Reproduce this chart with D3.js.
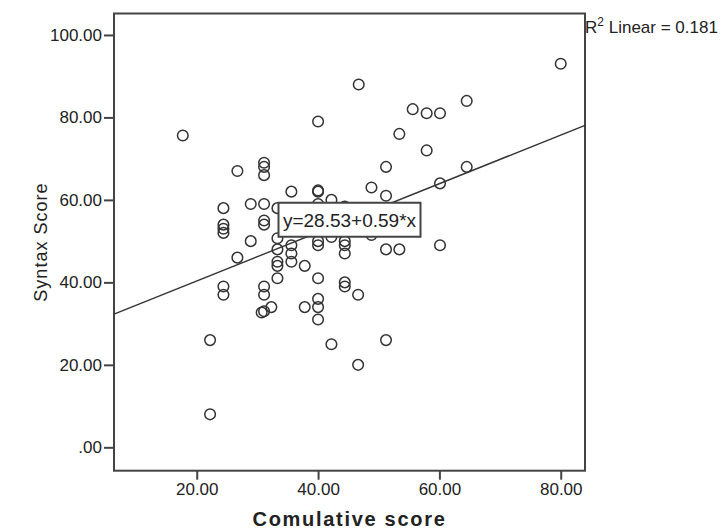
<!DOCTYPE html>
<html lang="en">
  <head>
    <meta charset="utf-8" />
    <title>Syntax Score vs Comulative score</title>
    <script src="https://cdnjs.cloudflare.com/ajax/libs/d3/7.8.5/d3.min.js"></script>
    <style type="text/css">
      body {
        margin: 0;
        background: #fff;
      }

      text {
        font-family: "Liberation Sans", Arial, Helvetica, sans-serif;
        fill: #222;
      }

      .frame {
        fill: none;
        stroke: #444;
        stroke-width: 2;
      }

      .dot {
        fill: none;
        stroke: #333;
        stroke-width: 1.5;
      }

      .fit {
        fill: none;
        stroke: #333;
        stroke-width: 1.4;
      }
    </style>
  </head>

  <body>
    <script>
      // values
      const cumulative = [
        17.7, 22.2, 22.2, 24.4, 24.4, 24.4, 24.4, 24.4, 24.4, 26.7,
        26.7, 28.9, 28.9, 31.1, 31.1, 31.1, 31.1, 31.1, 31.1, 31.1,
        31.1, 31.1, 30.7, 32.3, 33.3, 33.3, 33.3, 33.3, 33.3, 33.3,
        35.6, 35.6, 35.6, 35.6, 37.8, 37.8, 40.0, 40.0, 40.0, 40.0,
        40.0, 40.0, 40.0, 40.0, 40.0, 40.0, 42.2, 42.2, 42.2, 44.4,
        44.4, 44.4, 44.4, 44.4, 44.4, 46.7, 46.6, 46.6, 48.8, 48.8,
        51.2, 51.2, 51.2, 51.2, 53.4, 53.4, 55.6, 57.9, 57.9, 60.1,
        60.1, 60.1, 64.5, 64.5, 80.0
      ];
      const syntax = [
        75.6, 26.0, 8.0, 58.0, 54.0, 53.0, 52.0, 39.0, 37.0, 67.0,
        46.0, 59.0, 50.0, 69.0, 68.0, 66.0, 59.0, 55.0, 54.0, 39.0,
        37.0, 33.0, 32.7, 34.0, 58.0, 50.7, 48.0, 45.0, 44.0, 41.0,
        62.0, 49.0, 47.0, 45.0, 44.0, 34.0, 79.0, 62.0, 62.3, 59.0,
        50.0, 49.0, 41.0, 36.0, 34.0, 31.0, 60.0, 51.0, 25.0, 58.4,
        50.0, 49.0, 47.0, 40.0, 39.0, 88.0, 37.0, 20.0, 63.0, 51.5,
        68.0, 61.0, 48.0, 26.0, 76.0, 48.0, 82.0, 81.0, 72.0, 81.0,
        64.0, 49.0, 84.0, 68.0, 93.0
      ];

      const intercept = 28.53;
      const slope = 0.59;
      const r2 = 0.181;

      const xTicks = [20, 40, 60, 80];
      const yTicks = [0, 20, 40, 60, 80, 100];

      const data = cumulative.map((c, i) => ({ x: c, y: syntax[i] }));

      const width = 721;
      const height = 532;
      const marginTop = 13.5;
      const marginRight = 136;
      const marginBottom = 61.3;
      const marginLeft = 114;

      const x = d3.scaleLinear()
        .domain([6.36, 84.0])
        .range([marginLeft, width - marginRight]);

      const y = d3.scaleLinear()
        .domain([-5.67, 105.2])
        .range([height - marginBottom, marginTop]);

      const fmt = (d) => (d === 0 ? ".00" : d.toFixed(2));

      const svg = d3
        .select("body")
        .append("svg")
        .attr("width", width)
        .attr("height", height)
        .attr("viewBox", [0, 0, width, height]);

      // x axis
      svg.append("g")
        .attr("transform", `translate(0, ${height - marginBottom})`)
        .call(d3.axisBottom(x).tickValues(xTicks).tickFormat(fmt).tickSize(9).tickPadding(3).tickSizeOuter(0))
        .call((g) => g.select(".domain").remove())
        .call((g) => g.selectAll(".tick line").attr("stroke", "#444").attr("stroke-width", 2))
        .call((g) => g.selectAll(".tick text").attr("font-size", 17).attr("fill", "#222"));

      // y axis
      svg.append("g")
        .attr("transform", `translate(${marginLeft}, 0)`)
        .call(d3.axisLeft(y).tickValues(yTicks).tickFormat(fmt).tickSize(10).tickPadding(2).tickSizeOuter(0))
        .call((g) => g.select(".domain").remove())
        .call((g) => g.selectAll(".tick line").attr("stroke", "#444").attr("stroke-width", 2))
        .call((g) => g.selectAll(".tick text").attr("font-size", 17).attr("fill", "#222"));

      // frame
      svg.append("rect")
        .attr("class", "frame")
        .attr("x", marginLeft)
        .attr("y", marginTop)
        .attr("width", width - marginLeft - marginRight)
        .attr("height", height - marginTop - marginBottom);

      // points
      svg.append("g")
        .selectAll("circle")
        .data(data)
        .join("circle")
        .attr("class", "dot")
        .attr("cx", (d) => x(d.x))
        .attr("cy", (d) => y(d.y))
        .attr("r", 5.3);

      // fit line across the whole x range
      const [x0, x1] = x.domain();
      const fitLine = d3.line()
        .x((d) => x(d))
        .y((d) => y(intercept + slope * d));
      svg.append("path")
        .attr("class", "fit")
        .attr("d", fitLine([x0, x1]));

      // equation label on the middle of the line
      const xm = (x0 + x1) / 2;
      const label = svg.append("g")
        .attr("transform", `translate(${x(xm)}, ${y(intercept + slope * xm)})`);
      label.append("rect")
        .attr("x", -71)
        .attr("y", -17)
        .attr("width", 142)
        .attr("height", 34)
        .attr("fill", "#fff")
        .attr("stroke", "#444")
        .attr("stroke-width", 2);
      label.append("text")
        .attr("text-anchor", "middle")
        .attr("dy", "0.36em")
        .attr("font-size", 19)
        .text(`y=${intercept}+${slope}*x`);

      // R2 label
      const r2Text = svg.append("text")
        .attr("x", width - marginRight)
        .attr("y", 33)
        .attr("font-size", 17);
      r2Text.append("tspan").text("R");
      r2Text.append("tspan").attr("font-size", 12).attr("dy", -7).text("2");
      r2Text.append("tspan").attr("dy", 7).text(` Linear = ${r2}`);

      // axis titles
      svg.append("text")
        .attr("x", (marginLeft + width - marginRight) / 2)
        .attr("y", 526)
        .attr("text-anchor", "middle")
        .attr("font-size", 20)
        .attr("font-weight", "bold")
        .attr("letter-spacing", 1.7)
        .text("Comulative score");

      svg.append("text")
        .attr("transform", `translate(47, ${(marginTop + height - marginBottom) / 2}) rotate(-90)`)
        .attr("text-anchor", "middle")
        .attr("font-size", 18)
        .attr("letter-spacing", 1)
        .text("Syntax Score");
    </script>
  </body>
</html>
